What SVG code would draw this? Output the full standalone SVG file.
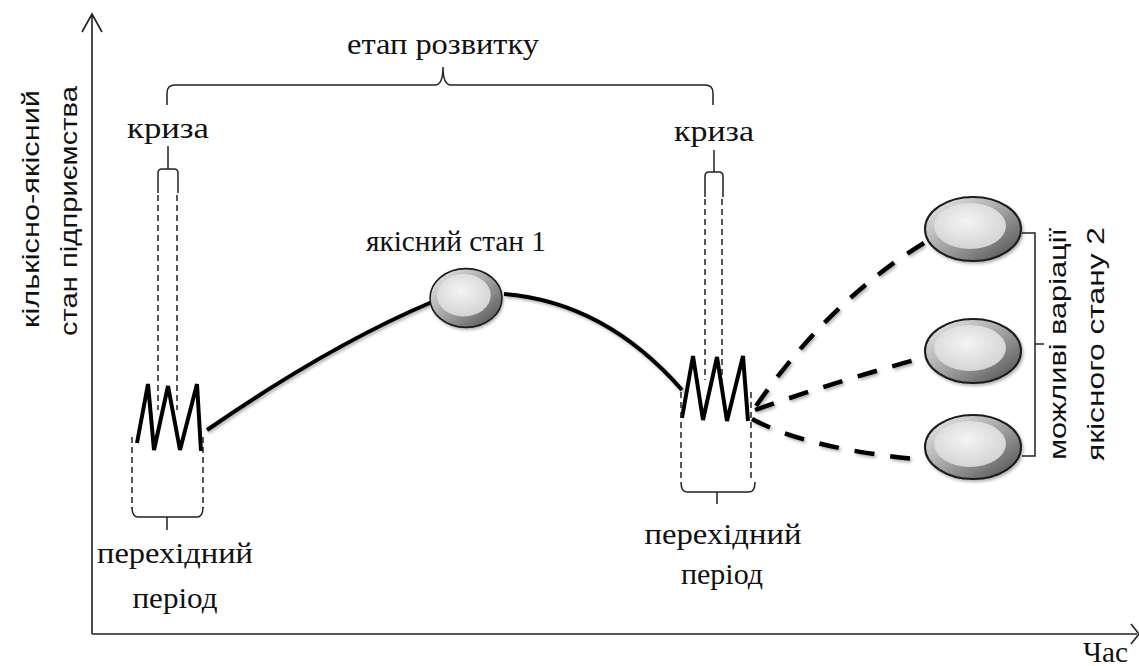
<svg xmlns="http://www.w3.org/2000/svg" width="1139" height="666" viewBox="0 0 1139 666">
<style>
.serif{font-family:"Liberation Serif","Times New Roman",serif;font-size:30px;fill:#111}
.sans{font-family:"Liberation Sans",Arial,sans-serif;font-size:24px;fill:#111}
.axis{stroke:#222;stroke-width:1.6;fill:none}
.brace{stroke:#222;stroke-width:1.5;fill:none}
.thin{stroke:#222;stroke-width:1.5;fill:none;stroke-dasharray:6 4}
.solid{stroke:#000;stroke-width:4;fill:none}
.zig{stroke:#000;stroke-width:4;fill:none;stroke-linejoin:miter}
.dash{stroke:#000;stroke-width:4.5;fill:none;stroke-dasharray:20 16}
</style>
<defs>
<linearGradient id="outer" x1="0" y1="0" x2="1" y2="1">
<stop offset="0" stop-color="#f2f2f2"/>
<stop offset="0.55" stop-color="#9a9a9a"/>
<stop offset="1" stop-color="#4a4a4a"/>
</linearGradient>
<radialGradient id="inner" cx="0.45" cy="0.4" r="0.7">
<stop offset="0" stop-color="#f4f4f4"/>
<stop offset="1" stop-color="#cfcfcf"/>
</radialGradient>
<filter id="sh" x="-20%" y="-20%" width="140%" height="140%">
<feDropShadow dx="1.5" dy="2" stdDeviation="1.5" flood-color="#000" flood-opacity="0.3"/>
</filter>
<g id="ball">
<ellipse cx="0" cy="0" rx="48" ry="32" fill="url(#outer)" stroke="#1a1a1a" stroke-width="2"/>
<ellipse cx="-3" cy="-3" rx="36" ry="23" fill="url(#inner)"/>
</g>
</defs>

<g id="axes">
<path class="axis" d="M92,634 L92,14 M82,32 L92,14 L102,32"/>
<path class="axis" d="M92,634 L1137,634 M1131,624 L1139,634 L1131,644"/>
<text class="serif" x="1083" y="662" textLength="45" lengthAdjust="spacingAndGlyphs">Час</text>
<text class="sans" transform="translate(39,209) rotate(-90)" text-anchor="middle" textLength="238" lengthAdjust="spacingAndGlyphs">кількісно-якісний</text>
<text class="sans" transform="translate(77,211) rotate(-90)" text-anchor="middle" textLength="250" lengthAdjust="spacingAndGlyphs">стан  підприємства</text>
</g>

<g id="stage">
<text class="serif" x="443" y="54" text-anchor="middle" textLength="192" lengthAdjust="spacingAndGlyphs">етап розвитку</text>
<path class="brace" d="M167,105 L167,93 Q167,85 175,85 L435,85 Q443,85 443,67 Q443,85 451,85 L705,85 Q713,85 713,93 L713,105"/>
</g>

<g id="crisis1">
<text class="serif" x="168" y="138" text-anchor="middle" textLength="82" lengthAdjust="spacingAndGlyphs">криза</text>
<path class="brace" d="M168,146 L168,169 M158,193 L158,173 Q158,169 162,169 L174,169 Q178,169 178,173 L178,193"/>
<path class="thin" d="M158,195 L158,410 M177,195 L177,410"/>
<polyline class="zig" points="137,443 148,384 154,450 168,386 180,450 197,384 201,451"/>
<path class="thin" d="M132,437 L132,508 M203,437 L203,508"/>
<path class="brace" d="M132,507 Q132,517 138,517 L197,517 Q203,517 203,507 M167,517 L167,530"/>
<text class="serif" x="175" y="563" text-anchor="middle" textLength="156" lengthAdjust="spacingAndGlyphs">перехідний</text>
<text class="serif" x="175" y="608" text-anchor="middle" textLength="85" lengthAdjust="spacingAndGlyphs">період</text>
</g>

<g id="crisis2">
<text class="serif" x="714" y="141" text-anchor="middle" textLength="80" lengthAdjust="spacingAndGlyphs">криза</text>
<path class="brace" d="M714,150 L714,172 M705,197 L705,176 Q705,172 709,172 L719,172 Q723,172 723,176 L723,197"/>
<path class="thin" d="M705,199 L705,380 M722,199 L722,380"/>
<polyline class="zig" points="682,418 693,356 703,420 717,357 727,421 743,356 748,421"/>
<path class="thin" d="M681,392 L681,482 M751,392 L751,482"/>
<path class="brace" d="M681,482 Q681,492 687,492 L749,492 Q755,492 755,482 M717,492 L717,504"/>
<text class="serif" x="723" y="544" text-anchor="middle" textLength="157" lengthAdjust="spacingAndGlyphs">перехідний</text>
<text class="serif" x="722" y="584" text-anchor="middle" textLength="82" lengthAdjust="spacingAndGlyphs">період</text>
</g>

<g id="connectors">
<path class="solid" d="M207,430 Q330,345 432,302" filter="url(#sh)"/>
<path class="solid" d="M504,294 Q605,302 682,390" filter="url(#sh)"/>
<path class="dash" d="M756,406 Q830,300 924,243" filter="url(#sh)"/>
<path class="dash" d="M755,410 Q840,380 926,357" filter="url(#sh)"/>
<path class="dash" d="M752,419 Q810,450 926,460" filter="url(#sh)"/>
</g>

<g id="state1">
<text class="serif" x="456" y="251" text-anchor="middle" textLength="180" lengthAdjust="spacingAndGlyphs">якісний стан 1</text>
<use href="#ball" transform="translate(466,298) scale(0.75,0.92)" filter="url(#sh)"/>
</g>

<g id="var1"><use href="#ball" transform="translate(973,229)" filter="url(#sh)"/></g>
<g id="var2"><use href="#ball" transform="translate(973,351)" filter="url(#sh)"/></g>
<g id="var3"><use href="#ball" transform="translate(973,447)" filter="url(#sh)"/></g>

<g id="variations">
<path class="brace" d="M1022,233 L1035,233 L1035,456 L1022,456 M1035,344 L1044,344"/>
<text class="sans" transform="translate(1066,344) rotate(-90)" text-anchor="middle" textLength="232" lengthAdjust="spacingAndGlyphs">можливі варіації</text>
<text class="sans" transform="translate(1104,344) rotate(-90)" text-anchor="middle" textLength="234" lengthAdjust="spacingAndGlyphs">якісного стану 2</text>
</g>
</svg>
